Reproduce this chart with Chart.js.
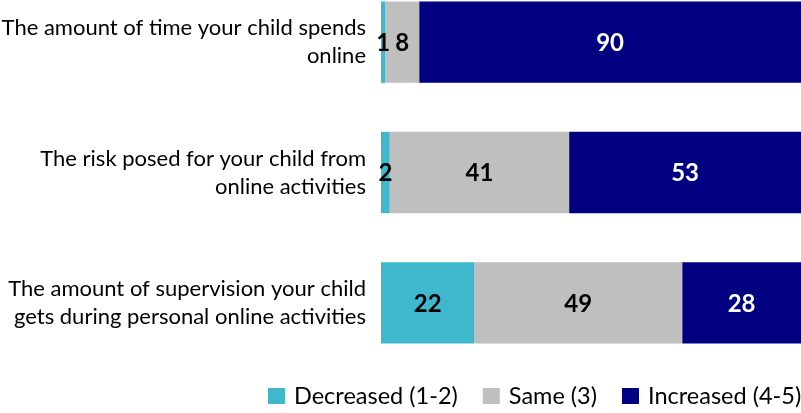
<!DOCTYPE html>
<html>
<head>
<meta charset="utf-8">
<script src="https://cdn.jsdelivr.net/npm/chart.js@4/dist/chart.umd.min.js"></script>
<style>
  html, body { margin: 0; padding: 0; background: #fff; overflow: hidden; }
  #wrap { position: relative; width: 801px; height: 413px; overflow: hidden; }
  #wrap canvas { position: absolute; left: 0; top: -30px; }
</style>
</head>
<body>
<div id="wrap"><canvas id="chart" width="801" height="443"></canvas></div>
<script>
const categories = [
  ["The amount of time your child spends", "online"],
  ["The risk posed for your child from", "online activities"],
  ["The amount of supervision your child", "gets during personal online activities"],
];
const decreased = [1, 2, 22];
const same = [8, 41, 49];
const increased = [90, 53, 28];
const seriesNames = ["Decreased (1-2)", "Same (3)", "Increased (4-5)"];
const seriesColors = ["#3FB8CE", "#BFBFBF", "#000080"];
const valueColors = ["#000000", "#000000", "#FFFFFF"];

const FONT = "Lato, 'Open Sans', sans-serif";
const series = [decreased, same, increased];
const totals = categories.map((_, j) => series.reduce((s, arr) => s + arr[j], 0));

// 100% stacked: each bar is scaled to its row total, labels keep the raw numbers
const datasets = series.map((values, i) => ({
  label: seriesNames[i],
  data: values.map((v, j) => (v / totals[j]) * 100),
  rawValues: values,
  backgroundColor: seriesColors[i],
  borderWidth: 0,
  barPercentage: 1,
  categoryPercentage: 0.624,
}));

const barValueLabels = {
  id: "barValueLabels",
  afterDatasetsDraw(chart) {
    const ctx = chart.ctx;
    ctx.save();
    ctx.font = "bold 24px " + FONT;
    ctx.textAlign = "center";
    ctx.textBaseline = "middle";
    chart.data.datasets.forEach((ds, i) => {
      chart.getDatasetMeta(i).data.forEach((bar, j) => {
        ctx.fillStyle = valueColors[i];
        ctx.fillText(String(ds.rawValues[j]), (bar.x + bar.base) / 2, bar.y + 1);
      });
    });
    ctx.restore();
  },
};

// legend row along the bottom, starting left of the plot
const bottomLegend = {
  id: "bottomLegend",
  afterDraw(chart) {
    const ctx = chart.ctx;
    ctx.save();
    ctx.font = "23.5px " + FONT;
    ctx.textBaseline = "alphabetic";
    ctx.textAlign = "left";
    let x = 268;
    const boxTop = 418, baseline = 434;
    chart.data.datasets.forEach((ds) => {
      ctx.fillStyle = ds.backgroundColor;
      ctx.fillRect(x, boxTop, 17, 16);
      x += 17 + 9;
      ctx.fillStyle = "#000";
      ctx.fillText(ds.label, x, baseline);
      x += ctx.measureText(ds.label).width + 25;
    });
    ctx.restore();
  },
};

new Chart(document.getElementById("chart").getContext("2d"), {
  type: "bar",
  data: { labels: categories, datasets },
  options: {
    responsive: false,
    animation: false,
    indexAxis: "y",
    layout: { padding: { top: 7, bottom: 45, left: 0, right: 0 } },
    plugins: { legend: { display: false }, tooltip: { enabled: false } },
    scales: {
      x: { stacked: true, min: 0, max: 100, display: false },
      y: {
        stacked: true,
        grid: { display: false },
        border: { display: false },
        ticks: {
          color: "#000",
          autoSkip: false,
          padding: 7,
          font: { family: FONT, size: 22, lineHeight: 1.27 },
        },
        afterFit(scale) {
          scale.width = 381;
          scale.paddingTop = 0;
          scale.paddingBottom = 0;
        },
      },
    },
  },
  plugins: [barValueLabels, bottomLegend],
});
</script>
</body>
</html>
